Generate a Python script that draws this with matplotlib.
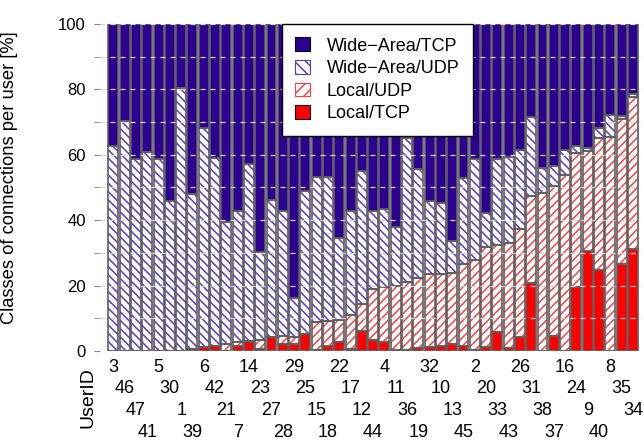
import numpy as np
import matplotlib
matplotlib.use("Agg")
import matplotlib.pyplot as plt
from matplotlib.patches import Patch

plt.rcParams['font.family'] = ['Liberation Sans', 'DejaVu Sans']
plt.rcParams['hatch.linewidth'] = 1.1

# user IDs in plotted order
users = [3, 46, 47, 41, 5, 30, 1, 39, 6, 42, 21, 7, 14, 23, 27, 28,
         29, 25, 15, 18, 22, 17, 12, 44, 4, 11, 36, 19, 32, 10, 13, 45,
         2, 20, 33, 43, 26, 31, 38, 37, 16, 24, 9, 40, 8, 35, 34]

# shares per user [%]
local_tcp = [0, 0, 0, 0, 0, 0, 0, 0.3, 1.2, 1.5, 0, 1.5, 2.9, 0.5, 4.2, 2.1,
             2.3, 5.1, 0.3, 1.6, 2.9, 0.7, 6.1, 3.3, 2.8, 0.2, 0.2, 1.0, 1.3, 1.5, 2.3, 1.5,
             0.3, 1.3, 5.7, 0.8, 4.4, 20.8, 0, 4.6, 0, 19.6, 30.5, 24.7, 0, 26.5, 31.1]
local_udp = [0, 0, 0, 0, 0, 0, 0, 0.2, 0, 0, 2.3, 1.4, 0.1, 2.8, 0, 2.5,
             2.1, 0, 8.6, 7.5, 6.7, 10.4, 8.2, 15.7, 16.9, 19.7, 20.8, 21.2, 22.1, 21.9, 21.4, 25.0,
             27.5, 30.5, 26.8, 32.2, 33.0, 26.6, 48.4, 45.9, 53.8, 41.0, 30.5, 40.3, 65.5, 44.5, 46.4]
wide_udp = [62.7, 70.4, 58.7, 60.9, 58.7, 45.7, 80.5, 47.5, 67.1, 57.5, 37.0, 39.8, 54.3, 26.9, 42.0, 38.3,
            11.9, 43.8, 44.4, 44.2, 24.8, 31.7, 40.7, 23.8, 23.6, 18.1, 44.0, 33.5, 22.6, 21.7, 9.9, 26.5,
            30.8, 10.3, 26.1, 26.2, 23.9, 24.0, 7.5, 5.9, 7.5, 2.2, 1.2, 3.1, 6.7, 0.7, 1.0]
wide_tcp = [100 - a - b - c for a, b, c in zip(local_tcp, local_udp, wide_udp)]

c_wtcp = '#2c0090'
c_wudp = '#5a3ac8'
c_ludp = '#ff4040'
c_ltcp = '#ff0000'
edge = '#5e5e5e'

fig = plt.figure(figsize=(6.44, 4.41), dpi=100)
ax = fig.add_axes([0.155, 0.204, 0.84, 0.742])

x = np.arange(len(users))
w = 0.88
b1 = np.array(local_tcp)
b2 = b1 + np.array(local_udp)
b3 = b2 + np.array(wide_udp)

ax.bar(x, local_tcp, w, color=c_ltcp, linewidth=0, zorder=1)
ax.bar(x, local_udp, w, bottom=b1, color='white', hatch='////', edgecolor=c_ludp, linewidth=0, zorder=1)
ax.bar(x, wide_udp, w, bottom=b2, color='white', hatch='\\\\\\\\', edgecolor=c_wudp, linewidth=0, zorder=1)
ax.bar(x, wide_tcp, w, bottom=b3, color=c_wtcp, linewidth=0, zorder=1)
# outlines
for vals, bot in [(local_tcp, 0), (local_udp, b1), (wide_udp, b2), (wide_tcp, b3)]:
    ax.bar(x, vals, w, bottom=bot, fill=False, edgecolor=edge, linewidth=1.2, zorder=1.2)

ax.set_xlim(-1.2, 46.7)
ax.set_ylim(0, 100)
for s in ax.spines.values():
    s.set_visible(False)

ax.set_xticks([])
ax.set_yticks(np.arange(0, 101, 20))
ax.set_yticks(np.arange(0, 101, 10), minor=True)
ax.tick_params(axis='y', which='both', length=4, color='#888888', labelsize=12, pad=6)
ax.set_axisbelow(False)
ax.grid(axis='y', which='both', color='#d4d4d4', linestyle=(0, (4, 4)), linewidth=0.9)

ax.set_ylabel('Classes of connections per user [%]', fontsize=13.2)
ax.yaxis.set_label_coords(-0.152, 0.53)

# staggered user labels
for i, u in enumerate(users):
    ax.annotate(str(u), xy=(i, 0), xycoords=('data', 'axes fraction'),
                xytext=(0, -11.7 - 15.6 * (i % 4)), textcoords='offset points',
                ha='center', va='center', fontsize=13)
fig.text(88 / 644, 1 - 398 / 441, 'UserID', rotation=90, ha='center', va='center', fontsize=14)

handles = [Patch(facecolor=c_wtcp, edgecolor='black', linewidth=0.8),
           Patch(facecolor='white', edgecolor=c_wudp, hatch='\\\\\\', linewidth=0.8),
           Patch(facecolor='white', edgecolor=c_ludp, hatch='///', linewidth=0.8),
           Patch(facecolor=c_ltcp, edgecolor='black', linewidth=0.8)]
labels = ['Wide\u2212Area/TCP', 'Wide\u2212Area/UDP', 'Local/UDP', 'Local/TCP']
leg = ax.legend(handles, labels, loc='upper left', bbox_to_anchor=(0.336, 1.0),
                borderaxespad=0, fontsize=13, handlelength=0.8, handleheight=0.8,
                handletextpad=0.95, labelspacing=0.3, fancybox=False, framealpha=1,
                borderpad=0.75)
leg.get_frame().set_edgecolor('black')
leg.get_frame().set_linewidth(1.0)
leg.set_zorder(5)

fig.savefig('out.png', dpi=100)
